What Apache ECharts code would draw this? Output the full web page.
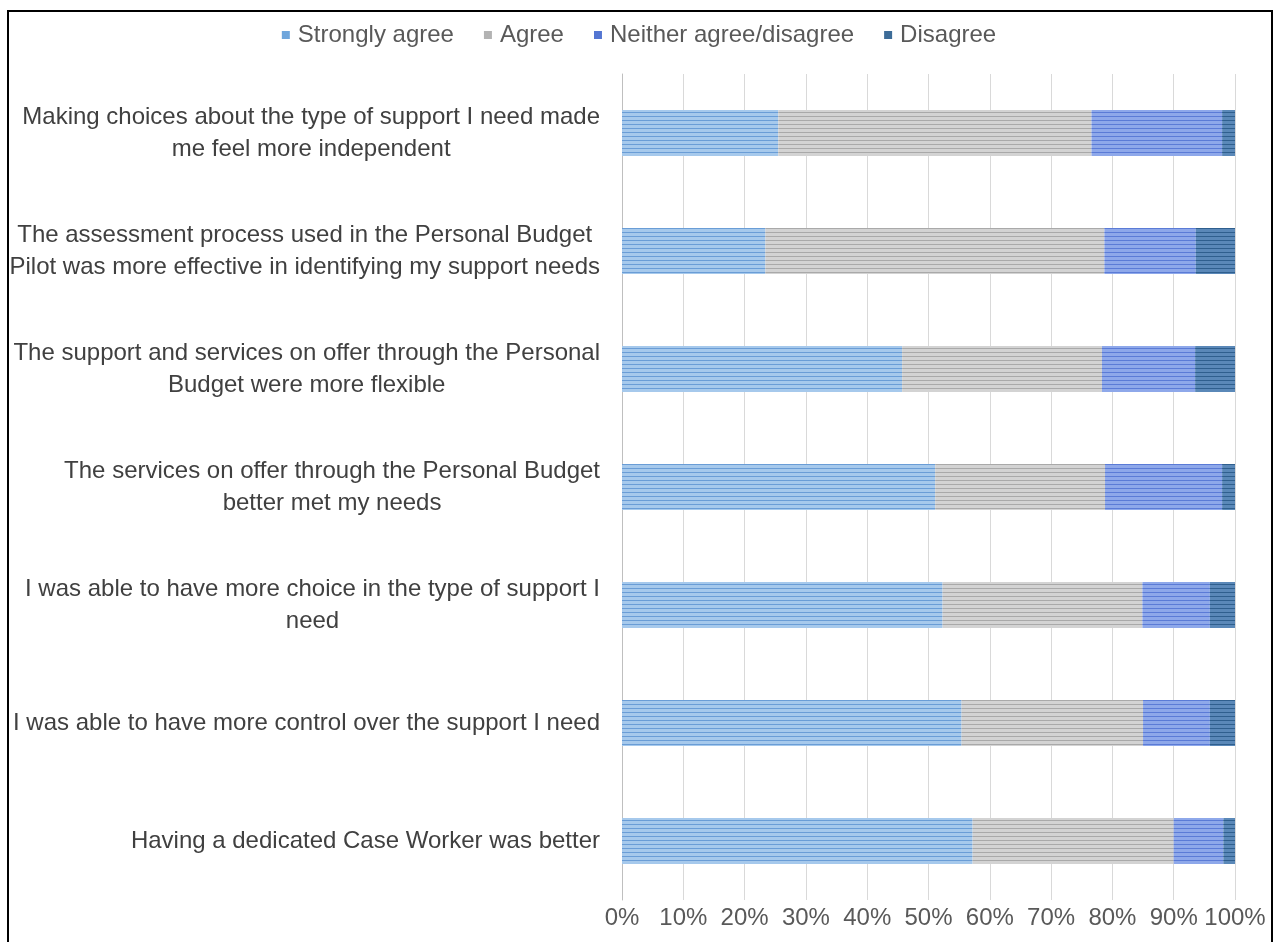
<!DOCTYPE html>
<html>
<head>
<meta charset="utf-8">
<script src="https://cdn.jsdelivr.net/npm/echarts@6/dist/echarts.min.js"></script>
<style>
  html, body { margin: 0; padding: 0; background: #fff; }
  #chart { width: 1278px; height: 942px; }
</style>
</head>
<body>
<div id="chart"></div>
<script>
// Survey statements, top to bottom (each split into its printed lines)
const statements = [
  ['Making choices about the type of support I need made', 'me feel more independent'],
  ['The assessment process used in the Personal Budget', 'Pilot was more effective in identifying my support needs'],
  ['The support and services on offer through the Personal', 'Budget were more flexible'],
  ['The services on offer through the Personal Budget', 'better met my needs'],
  ['I was able to have more choice in the type of support I', 'need'],
  ['I was able to have more control over the support I need'],
  ['Having a dedicated Case Worker was better']
];

const seriesNames = ['Strongly agree', 'Agree', 'Neither agree/disagree', 'Disagree'];

// Share of respondents (%) per statement
const stronglyAgree = [25.5, 23.4, 45.7, 51.1, 52.3, 55.4, 57.2];
const agree         = [51.1, 55.3, 32.6, 27.7, 32.6, 29.6, 32.8];
const neither       = [21.3, 14.9, 15.2, 19.1, 11.0, 10.9, 8.1];
const disagree      = [2.1, 6.4, 6.5, 2.1, 4.1, 4.1, 1.9];

const percentTicks = ['0%', '10%', '20%', '30%', '40%', '50%', '60%', '70%', '80%', '90%', '100%'];

const fills   = ['#a6c9ec', '#d3d3d3', '#8ea8ea', '#5a88b8'];
const stripes = ['#6a9dd6', '#a9a9a9', '#5b7bd6', '#2f5f8e'];
const swatch  = ['#6fa6dc', '#b3b3b3', '#5476d2', '#3d6c98'];
const values  = [stronglyAgree, agree, neither, disagree];

const FONT = 'Liberation Sans, Arial, sans-serif';

// Each line of a statement is centred within the label block
const categories = statements.map(lines => lines.map(l => '{c|' + l + '}').join('\n'));

const chart = echarts.init(document.getElementById('chart'), null, { renderer: 'canvas' });

const series = seriesNames.map((name, i) => ({
  name,
  type: 'bar',
  stack: 'total',
  barWidth: 46,
  data: values[i],
  itemStyle: {
    color: fills[i],
    decal: {
      symbol: 'rect',
      symbolSize: 1,
      dashArrayX: [1, 0],
      dashArrayY: [1, 3],
      rotation: 0,
      color: stripes[i]
    }
  },
  emphasis: { disabled: true }
}));

chart.setOption({
  animation: false,
  textStyle: { fontFamily: FONT },
  legend: {
    top: 18,
    left: 'center',
    itemWidth: 8,
    itemHeight: 8,
    itemGap: 30,
    icon: 'rect',
    textStyle: { fontSize: 24, color: '#595959', fontFamily: FONT, padding: [0, 0, 0, 3] },
    data: seriesNames.map((name, i) => ({
      name,
      itemStyle: { color: swatch[i], decal: 'none', borderWidth: 0 }
    }))
  },
  grid: { left: 622, right: 43, top: 74, bottom: 42, containLabel: false },
  xAxis: {
    type: 'value',
    min: 0,
    max: 100,
    interval: 10,
    axisLine: { show: false },
    axisTick: { show: false },
    splitLine: { show: true, lineStyle: { color: '#d9d9d9', width: 1 } },
    axisLabel: {
      fontSize: 24,
      color: '#595959',
      margin: 6,
      formatter: v => percentTicks[Math.round(v / 10)]
    }
  },
  yAxis: {
    type: 'category',
    inverse: true,
    data: categories,
    axisLine: { show: true, lineStyle: { color: '#bfbfbf', width: 1 } },
    axisTick: { show: false },
    axisLabel: {
      fontSize: 24,
      color: '#404040',
      margin: 22,
      align: 'right',
      lineHeight: 32,
      rich: {
        c: { align: 'center', fontSize: 24, lineHeight: 32, color: '#404040', fontFamily: FONT }
      }
    }
  },
  graphic: [{
    type: 'rect',
    shape: { x: 8, y: 11, width: 1264, height: 1000 },
    style: { fill: 'none', stroke: '#000', lineWidth: 2 },
    silent: true
  }],
  series
});
</script>
</body>
</html>
